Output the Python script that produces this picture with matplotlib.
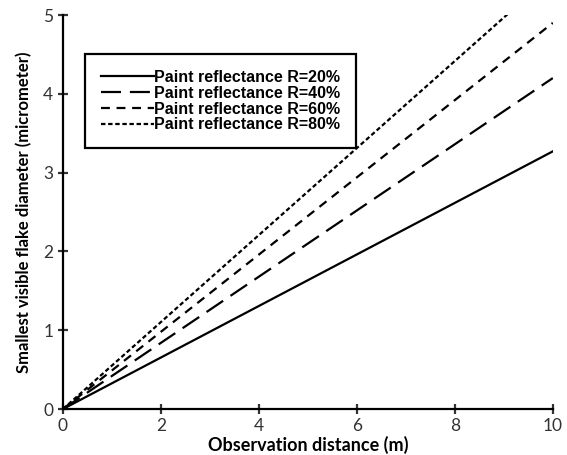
import matplotlib.pyplot as plt

# values (straight lines from the origin)
distance = [0, 10]
d_r20 = [0, 3.27]
d_r40 = [0, 4.20]
d_r60 = [0, 4.90]
d_r80 = [0, 5.52]
labels = ['Paint reflectance R=20%', 'Paint reflectance R=40%',
          'Paint reflectance R=60%', 'Paint reflectance R=80%']

fig = plt.figure(figsize=(5.67, 4.55), dpi=100)
ax = fig.add_axes([0.111, 0.101, 0.864, 0.866])

ax.plot(distance, d_r20, color='black', lw=1.6, ls='-', label=labels[0])
ax.plot(distance, d_r40, color='black', lw=1.6, ls=(0, (9, 4)), label=labels[1])
ax.plot(distance, d_r60, color='black', lw=1.6, ls=(0, (4, 3)), label=labels[2])
ax.plot(distance, d_r80, color='black', lw=1.6, ls=(0, (2, 1.2)), label=labels[3])

ax.set_xlim(0, 10)
ax.set_ylim(0, 5)
ax.set_xticks(range(0, 11, 2))
ax.set_yticks(range(0, 6))

for s in ['top', 'right']:
    ax.spines[s].set_visible(False)
for s in ['left', 'bottom']:
    ax.spines[s].set_linewidth(1.6)
ax.tick_params(direction='inout', length=7, width=1.6, labelsize=12.5,
               colors='#333333')
ax.tick_params(axis='x', pad=3)
for s in ['left', 'bottom']:
    ax.spines[s].set_color('black')
for t in ax.get_xticklabels() + ax.get_yticklabels():
    t.set_family('Lato')

ax.set_xlabel('Observation distance (m)', fontsize=13, fontweight='bold',
              family='Lato', labelpad=1)
ax.set_ylabel('Smallest visible flake diameter (micrometer)', fontsize=12,
              fontweight='bold', family='Lato', labelpad=8)

leg = ax.legend(loc='upper left', bbox_to_anchor=(0.045, 0.901), fancybox=False,
                framealpha=1, edgecolor='black', handlelength=3.3,
                handletextpad=0.0, labelspacing=0.05, borderpad=1.0,
                borderaxespad=0.0,
                prop={'family': 'Liberation Sans', 'weight': 'bold', 'size': 11.5})
leg.get_frame().set_linewidth(1.6)

fig.savefig('out.png', dpi=100)
